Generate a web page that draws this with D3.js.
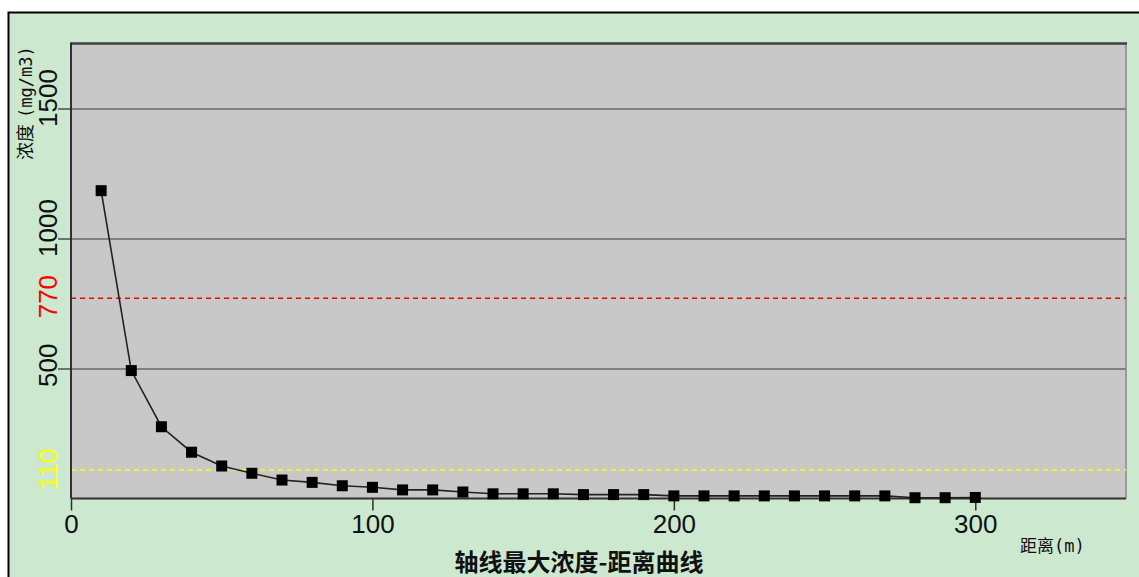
<!DOCTYPE html>
<html><head><meta charset="utf-8">
<script src="https://cdn.jsdelivr.net/npm/d3@7"></script>
<style>
html,body{margin:0;padding:0;background:#fff;}
svg{display:block;}
</style></head>
<body>
<svg id="c" width="1139" height="577"></svg>
<script>
const distances = [10,20,30,40,50,60,70,80,90,100,110,120,130,140,150,160,170,180,190,200,210,220,230,240,250,260,270,280,290,300];
const concentrations = [1184,492,276,178,125,97,71,62,49,43,33,33,25,18,18,18,15,15,15,10,10,10,10,10,10,10,10,3,3,4];
const xTicks = [0,100,200,300];
const yTicks = [500,1000,1500];
const thresholdValues = [770,110];
const thresholdColors = ["#ff0000","#ffff00"];
const titleText = "轴线最大浓度-距离曲线";
const yTitleMain = "浓度";
const yTitleUnit = "(mg/m3)";
const xTitleMain = "距离";
const xTitleUnit = "(m)";

const svg = d3.select("#c");
const L=71, R=1126, T=43.5, B=498.5;
const x = d3.scaleLinear().domain([0,350]).range([L,R]);
const y = d3.scaleLinear().domain([0,1750]).range([B,T]);
const numFont = "'Liberation Sans Narrow','Arial Narrow','Liberation Sans',Arial,sans-serif";
const cjk = "'Noto Sans CJK SC','Noto Sans CJK JP',sans-serif";
const mono = "'DejaVu Sans Mono','Liberation Mono',monospace";

// outer background
svg.append("rect").attr("x",8.5).attr("y",12.5).attr("width",1139).attr("height",577).attr("fill","#cce8cf").attr("stroke","#000").attr("stroke-width",2);
// plot area
svg.append("rect").attr("x",L).attr("y",T).attr("width",R-L).attr("height",B-T).attr("fill","#c8c8c8");
svg.append("line").attr("x1",R).attr("x2",R).attr("y1",T).attr("y2",B).attr("stroke","#8a8a8a").attr("stroke-width",1.5);
svg.append("line").attr("x1",L).attr("x2",R+1).attr("y1",T).attr("y2",T).attr("stroke","#404040").attr("stroke-width",2.5);

// y axis with gridlines
const yAxis = svg.append("g").attr("transform",`translate(${L},0)`)
  .call(d3.axisLeft(y).tickValues(yTicks).tickSize(13).tickSizeOuter(0).tickFormat(d3.format("d")));
yAxis.select(".domain").remove();
yAxis.selectAll(".tick line").attr("stroke","#707070").attr("stroke-width",2);
yAxis.selectAll(".tick").append("line").attr("x1",0).attr("x2",R-L).attr("stroke","#808080").attr("stroke-width",2);
yAxis.selectAll(".tick text")
  .attr("transform","translate(-14,18) rotate(-90)")
  .attr("x",0).attr("y",0).attr("dy",null).attr("text-anchor","start")
  .attr("font-family",numFont).attr("font-size",26).attr("fill","#111");

// thresholds
thresholdValues.forEach((v,i)=>{
  svg.append("line").attr("x1",L).attr("x2",R).attr("y1",y(v)).attr("y2",y(v))
    .attr("stroke",thresholdColors[i]).attr("stroke-width",1.5).attr("stroke-dasharray","5,4");
  svg.append("text").attr("transform",`translate(57,${y(v)+20}) rotate(-90)`)
    .attr("font-family",numFont).attr("font-size",26).attr("fill",thresholdColors[i])
    .attr("text-anchor","start").text(v);
});

// axes lines
svg.append("line").attr("x1",L).attr("x2",L).attr("y1",T-1).attr("y2",B).attr("stroke","#303030").attr("stroke-width",2);

const xAxis = svg.append("g").attr("transform",`translate(0,${B})`)
  .call(d3.axisBottom(x).tickValues(xTicks).tickSize(12).tickSizeOuter(0).tickFormat(d3.format("d")));
xAxis.select(".domain").attr("d",`M${L},0H${R}`).attr("stroke","#303030").attr("stroke-width",2);
xAxis.selectAll(".tick line").attr("stroke","#303030").attr("stroke-width",1.5);
xAxis.selectAll(".tick text").attr("y",34).attr("dy",null)
  .attr("font-family",numFont).attr("font-size",26).attr("fill","#111");

// data line and markers
const pts = distances.map((d,i)=>[d,concentrations[i]]);
svg.append("path").datum(pts)
  .attr("d",d3.line().x(d=>x(d[0])).y(d=>y(d[1])))
  .attr("fill","none").attr("stroke","#222").attr("stroke-width",1.6);
svg.selectAll("rect.m").data(pts).enter().append("rect").attr("class","m")
  .attr("x",d=>x(d[0])-5.5).attr("y",d=>y(d[1])-5.5).attr("width",11).attr("height",11).attr("fill","#000");

// titles
const yt = svg.append("text").attr("transform","translate(32,160) rotate(-90)")
  .attr("fill","#111").attr("text-anchor","start");
yt.append("tspan").attr("font-family",cjk).attr("font-size",18).text(yTitleMain);
yt.append("tspan").attr("font-family",mono).attr("font-size",17).attr("dx",6).text(yTitleUnit);

const xt = svg.append("text").attr("x",1020).attr("y",552).attr("fill","#111");
xt.append("tspan").attr("font-family",cjk).attr("font-size",17).text(xTitleMain);
xt.append("tspan").attr("font-family",mono).attr("font-size",17).text(xTitleUnit);

svg.append("text").attr("x",579).attr("y",571).attr("text-anchor","middle").attr("font-family",cjk)
  .attr("font-size",24).attr("font-weight","bold").attr("fill","#111").text(titleText);
</script>
</body></html>
